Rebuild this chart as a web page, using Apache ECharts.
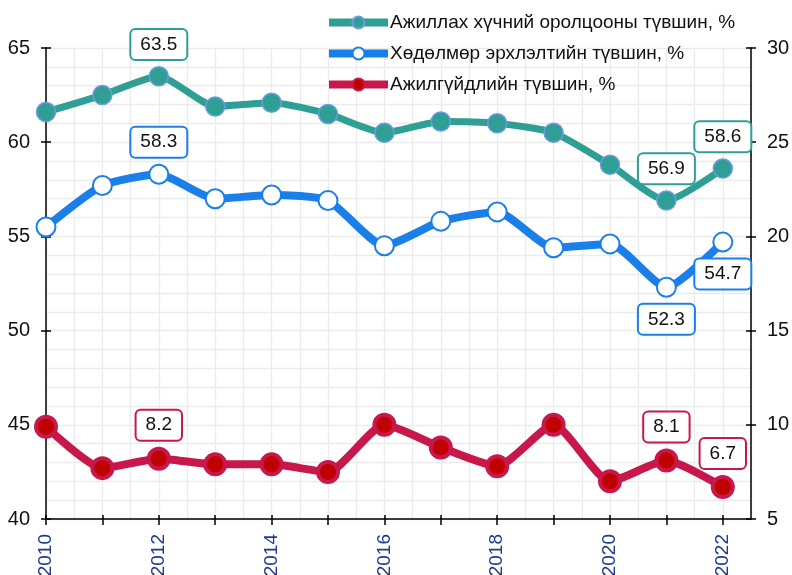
<!DOCTYPE html>
<html>
<head>
<meta charset="utf-8">
<script src="https://cdn.jsdelivr.net/npm/echarts@6/dist/echarts.min.js"></script>
<style>html,body{margin:0;padding:0;background:#fff}#c{width:792px;height:575px}</style>
</head>
<body>
<div id="c"></div>
<script>
const years = [2010, 2011, 2012, 2013, 2014, 2015, 2016, 2017, 2018, 2019, 2020, 2021, 2022];
const participation = [61.6, 62.5, 63.5, 61.9, 62.1, 61.5, 60.5, 61.1, 61.0, 60.5, 58.8, 56.9, 58.6];
const employment = [55.5, 57.7, 58.3, 57.0, 57.2, 56.9, 54.5, 55.8, 56.3, 54.4, 54.6, 52.3, 54.7];
const unemployment = [9.9, 7.7, 8.2, 7.9, 7.9, 7.5, 10.0, 8.8, 7.8, 10.0, 7.0, 8.1, 6.7];
const seriesNames = ['Ажиллах хүчний оролцооны түвшин, %', 'Хөдөлмөр эрхлэлтийн түвшин, %', 'Ажилгүйдлийн түвшин, %'];
const leftTicks = [40, 45, 50, 55, 60, 65];
const rightTicks = [5, 10, 15, 20, 25, 30];
const xLabelYears = [2010, 2012, 2014, 2016, 2018, 2020, 2022];

const labelled = [
  {2012: 'top', 2021: 'top', 2022: 'top'},
  {2012: 'top', 2021: 'bottom', 2022: 'bottom'},
  {2012: 'top', 2021: 'top', 2022: 'top'}
];
const colors = ['#2F9E94', '#1A7FE8', '#C8174B'];
const font = 'Liberation Sans, Arial, sans-serif';

function build(vals, idx) {
  return years.map((y, i) => {
    const d = {value: [y, vals[i]]};
    const pos = labelled[idx][y];
    if (pos) {
      d.label = {
        show: true, position: pos, distance: 7,
        formatter: () => vals[i].toFixed(1),
        backgroundColor: '#fff', borderColor: colors[idx], borderWidth: 2,
        borderRadius: 4, padding: [5, 9], color: '#111', fontSize: 19,
        fontFamily: font
      };
    }
    return d;
  });
}

const gridLine = {color: '#EBEBEB', width: 1.3};
const hidden = {axisLine: {show: false}, axisTick: {show: false}, axisLabel: {show: false}};

const chart = echarts.init(document.getElementById('c'));
chart.setOption({
  animation: false,
  legend: {
    left: 320, top: 8, orient: 'vertical', itemGap: 12, itemWidth: 59, itemHeight: 15,
    lineStyle: {width: 8},
    textStyle: {fontSize: 19, fontFamily: font, color: '#111', padding: [0, 0, 0, -3]},
    data: seriesNames
  },
  grid: {left: 46, right: 41, top: 48, bottom: 56, containLabel: false, outerBoundsMode: 'none'},
  xAxis: [
    {
      type: 'value', min: 2010, max: 2022.5, interval: 0.5, position: 'bottom',
      ...hidden,
      splitLine: {show: true, lineStyle: gridLine}
    },
    {
      type: 'value', min: 2010, max: 2022.5, interval: 1, position: 'bottom',
      axisLine: {lineStyle: {color: '#000', width: 1.5}},
      axisTick: {show: true, length: 6, customValues: years, lineStyle: {color: '#000', width: 1.5}},
      axisLabel: {customValues: xLabelYears, rotate: 90, margin: 15, fontSize: 19, fontFamily: font, color: '#1F3A93', formatter: v => String(v)},
      splitLine: {show: false}
    },
    {
      type: 'value', min: 2010, max: 2022.5, interval: 1, position: 'bottom',
      axisLine: {show: false}, axisLabel: {show: false}, splitLine: {show: false},
      axisTick: {show: true, inside: true, length: 4, customValues: years, lineStyle: {color: '#000', width: 1.5}}
    }
  ],
  yAxis: [
    {
      type: 'value', min: 40, max: 65, interval: 1, position: 'left',
      ...hidden,
      splitLine: {show: true, lineStyle: gridLine}
    },
    {
      type: 'value', min: 5, max: 30, interval: 5, position: 'right',
      axisLine: {show: true, lineStyle: {color: '#000', width: 1.5}},
      axisTick: {show: true, length: 5, lineStyle: {color: '#000', width: 1.5}},
      axisLabel: {margin: 16, fontSize: 20, fontFamily: font, color: '#111'},
      splitLine: {show: false}
    },
    {
      type: 'value', min: 40, max: 65, interval: 5, position: 'left',
      axisLine: {show: true, lineStyle: {color: '#000', width: 1.5}},
      axisTick: {show: true, length: 5, lineStyle: {color: '#000', width: 1.5}},
      axisLabel: {customValues: leftTicks, margin: 16, fontSize: 20, fontFamily: font, color: '#111'},
      splitLine: {show: false}
    },
    {
      type: 'value', min: 40, max: 65, interval: 5, position: 'left',
      axisLine: {show: false}, axisLabel: {show: false}, splitLine: {show: false},
      axisTick: {show: true, inside: true, length: 5, lineStyle: {color: '#000', width: 1.5}}
    },
    {
      type: 'value', min: 5, max: 30, interval: 5, position: 'right',
      axisLine: {show: false}, axisLabel: {show: false}, splitLine: {show: false},
      axisTick: {show: true, inside: true, length: 5, lineStyle: {color: '#000', width: 1.5}}
    }
  ],
  series: [
    {
      name: seriesNames[0], type: 'line', xAxisIndex: 1, yAxisIndex: 2, smooth: 0.2,
      symbol: 'circle', symbolSize: 19,
      lineStyle: {color: colors[0], width: 7},
      itemStyle: {color: '#2F9E94', borderColor: '#6A9BE0', borderWidth: 1.5},
      data: build(participation, 0), z: 3
    },
    {
      name: seriesNames[1], type: 'line', xAxisIndex: 1, yAxisIndex: 2, smooth: 0.2,
      symbol: 'circle', symbolSize: 19,
      lineStyle: {color: colors[1], width: 8},
      itemStyle: {color: '#fff', borderColor: '#1A7FE8', borderWidth: 2},
      data: build(employment, 1), z: 3
    },
    {
      name: seriesNames[2], type: 'line', xAxisIndex: 1, yAxisIndex: 1, smooth: 0.2,
      symbol: 'circle', symbolSize: 20,
      lineStyle: {color: colors[2], width: 8},
      itemStyle: {color: '#C00000', borderColor: '#C8174B', borderWidth: 4},
      data: build(unemployment, 2), z: 3
    }
  ]
});
</script>
</body>
</html>
